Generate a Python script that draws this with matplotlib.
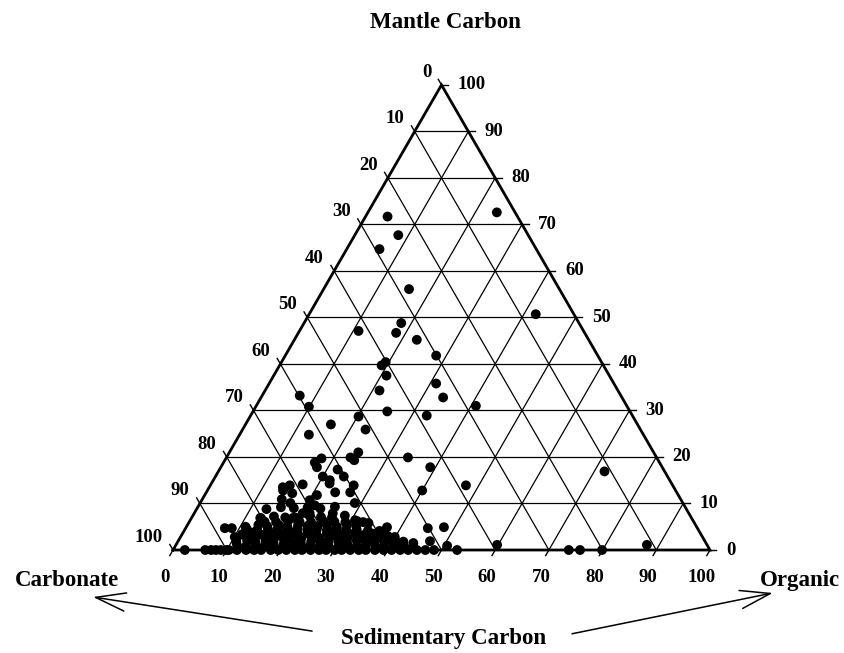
import matplotlib
matplotlib.use("Agg")
import matplotlib.pyplot as plt
import numpy as np

# ternary compositions in percent: organic (bottom axis) and mantle (right axis);
# carbonate is whatever is left of 100
organic_scatter = [4.1, 24.0, 8.1, 6.1, 15.9, 42.2, 18.1, 11.0, 18.2, 22.8, 28.1, 19.4, 19.0, 21.0,
                   31.1, 21.3, 7.0, 9.9, 33.9, 40.9, 20.2, 25.0, 32.8, 15.9, 12.9, 22.9, 24.0, 23.1,
                   24.1, 17.8, 17.0, 17.9, 33.8, 39.0, 71.9, 47.6, 22.0, 23.9, 20.0, 21.7, 26.7, 13.7,
                   14.8, 17.1, 26.8, 24.0, 28.8, 25.8, 40.0, 14.1, 16.1, 14.8, 16.8, 20.1, 20.9, 21.6,
                   22.0, 12.8, 18.9, 20.2, 21.5, 45.1, 48.0, 46.9, 50.6, 52.9, 59.8, 73.7, 75.8, 79.9,
                   87.7, 2.2, 6.0, 7.1, 8.0, 8.9, 9.9, 7.3, 8.6, 10.1, 11.8, 32.4, 30.7, 37.4, 37.3,
                   39.9, 41.5]
mantle_scatter = [71.7, 72.6, 67.7, 64.7, 56.1, 50.7, 48.8, 47.1, 46.7, 45.2, 41.8, 40.4, 39.7, 37.5,
                  35.8, 34.3, 33.2, 30.8, 32.8, 31.0, 28.7, 29.8, 28.9, 27.0, 24.8, 25.9, 21.0, 19.9,
                  19.3, 19.7, 18.8, 17.8, 19.9, 17.8, 16.9, 13.9, 17.3, 15.8, 15.8, 15.0, 13.9, 13.5,
                  13.9, 14.1, 12.4, 12.4, 10.1, 7.9, 12.8, 12.8, 12.2, 10.9, 10.1, 10.7, 11.8, 9.6,
                  14.3, 6.9, 6.9, 7.9, 7.9, 4.7, 4.9, 1.9, 0.9, 0.0, 1.1, 0.0, 0.0, 0.0,
                  1.1, 0.0, 0.0, 0.0, 0.0, 0.0, 0.0, 4.7, 4.7, 2.8, 3.9, 6.0, 6.4, 4.9, 3.6,
                  2.8, 1.5]

# the dense group of samples low in mantle carbon
organic_base = [10.4, 11.9, 13.6, 15.1, 16.4, 18.2, 19.6, 21.1, 22.7, 24.0, 25.6, 27.2, 28.5, 30.1,
                31.4, 33.0, 34.6, 35.9, 37.6, 39.2, 40.7, 42.3, 43.8, 45.4, 47.0, 48.6,
                11.5, 13.2, 14.8, 16.6, 18.3, 20.0, 21.8, 23.5, 25.1, 26.9, 28.6, 30.4, 32.1, 33.8,
                35.4, 37.2, 38.9, 40.6, 42.5, 44.3,
                11.0, 12.8, 14.5, 16.3, 17.9, 19.7, 21.4, 23.0, 24.8, 26.5, 28.1, 29.9, 31.6, 33.2,
                35.0, 36.6, 38.3, 40.1, 42.0, 44.0,
                10.6, 12.4, 14.0, 15.8, 17.6, 19.2, 21.0, 22.6, 24.4, 26.0, 27.8, 29.5, 31.2, 32.9,
                34.6, 36.3, 37.9, 39.8,
                11.2, 13.0, 14.7, 16.4, 18.1, 19.8, 21.6, 23.3, 25.0, 26.8, 28.4, 30.2, 32.0, 33.8,
                35.5, 38.5,
                11.6, 13.5, 15.4, 17.2, 19.1, 20.9, 22.8, 24.6, 26.5, 28.3, 30.1, 32.0, 34.2, 36.4,
                11.0, 13.2, 15.0, 17.1, 18.8, 20.6, 22.5, 24.3, 26.0, 28.0, 29.7, 31.5, 33.5,
                14.0, 16.2, 18.3, 20.5, 22.7, 24.9, 27.0, 29.1, 31.2,
                13.0, 15.2, 17.4, 19.5, 21.8, 24.0, 26.1, 28.3,
                13.0, 15.5, 18.0, 20.5, 23.0, 25.5]
mantle_base = [0.0, 0.0, 0.0, 0.0, 0.0, 0.0, 0.0, 0.0, 0.0, 0.0, 0.0, 0.0, 0.0, 0.0,
               0.0, 0.0, 0.0, 0.0, 0.0, 0.0, 0.0, 0.0, 0.0, 0.0, 0.0, 0.0,
               0.9, 0.8, 1.0, 0.9, 0.8, 1.0, 0.9, 0.8, 1.0, 0.9, 0.8, 1.0, 0.9, 0.8,
               1.0, 0.9, 0.8, 1.0, 0.9, 0.8,
               1.6, 2.0, 1.7, 1.9, 1.6, 2.0, 1.8, 1.6, 1.9, 2.0, 1.7, 1.8, 1.6, 2.0,
               1.8, 1.7, 1.9, 1.6, 1.8, 1.5,
               2.6, 2.7, 2.5, 2.8, 2.6, 2.7, 2.5, 2.6, 2.8, 2.6, 2.7, 2.5, 2.6, 2.8,
               2.6, 2.5, 2.7, 2.4,
               3.4, 3.7, 3.3, 3.6, 3.5, 3.8, 3.4, 3.6, 3.3, 3.7, 3.5, 3.4, 3.6, 3.2,
               3.5, 3.0,
               4.4, 4.3, 4.5, 4.4, 4.2, 4.5, 4.4, 4.3, 4.5, 4.4, 4.3, 4.4, 4.2, 4.1,
               5.0, 5.4, 5.1, 5.3, 5.0, 5.4, 5.2, 5.1, 5.3, 5.0, 5.4, 5.2, 5.8,
               6.1, 6.0, 6.2, 6.1, 6.0, 6.2, 6.1, 6.0, 6.2,
               6.8, 7.2, 7.0, 6.9, 7.3, 7.1, 7.0, 7.4,
               8.8, 9.2, 9.0, 9.1, 8.9, 9.3]

grid_levels = list(range(10, 100, 10))
tick_levels = list(range(0, 101, 10))

H = np.sqrt(3) / 2


def to_xy(organic, mantle):
    o = np.asarray(organic, dtype=float)
    m = np.asarray(mantle, dtype=float)
    return o + m / 2, m * H


plt.rcParams['font.family'] = ['Liberation Serif', 'DejaVu Serif']
plt.rcParams['font.weight'] = 'bold'

fig = plt.figure(figsize=(8.45, 6.53), dpi=100)
ax = fig.add_axes([0, 0, 1, 1])
ax.set_xlim(-32.22, 125.14)
ax.set_ylim(-19.18, 102.42)
ax.axis('off')

# grid lines for each component
for k in grid_levels:
    ax.plot([k / 2, 100 - k / 2], [k * H, k * H], color='black', lw=0.9, zorder=1)
    ax.plot([k, k + (100 - k) / 2], [0, (100 - k) * H], color='black', lw=0.9, zorder=1)
    ax.plot([(100 - k) / 2, 100 - k], [(100 - k) * H, 0], color='black', lw=0.9, zorder=1)

# outline
ax.plot([0, 100, 50, 0], [0, 0, 100 * H, 0], color='black', lw=2.0, zorder=2,
        solid_joinstyle='miter')

tl = 1.2
for k in tick_levels:
    # bottom axis: organic
    ax.plot([k, k - 0.5 * tl], [0, -H * tl], color='black', lw=1.0)
    ax.text(k - 1.5, -5.2, str(k), ha='center', va='center', fontsize=13.5)
    # right axis: mantle
    xr, yr = 100 - k / 2, k * H
    ax.plot([xr, xr + tl], [yr, yr], color='black', lw=1.0)
    ax.text(xr + 3.0, yr, str(k), ha='left', va='center', fontsize=13.5)
    # left axis: carbonate
    xl, yl = (100 - k) / 2, (100 - k) * H
    ax.plot([xl, xl - 0.5 * tl], [yl, yl + H * tl], color='black', lw=1.0)
    ax.text(xl - 1.9, yl + 2.4, str(k), ha='right', va='center', fontsize=13.5)

x1, y1 = to_xy(organic_scatter, mantle_scatter)
x2, y2 = to_xy(organic_base, mantle_base)
ax.scatter(np.concatenate([x1, x2]), np.concatenate([y1, y2]), s=50, color='black',
           edgecolors='none', zorder=3, clip_on=False)

ax.text(50.8, 98.3, 'Mantle Carbon', ha='center', va='center', fontsize=16.5)
ax.text(-19.7, -5.6, 'Carbonate', ha='center', va='center', fontsize=16.5)
ax.text(116.8, -5.6, 'Organic', ha='center', va='center', fontsize=16.5)
ax.text(50.3, -16.4, 'Sedimentary Carbon', ha='center', va='center', fontsize=16.5)

arrow = dict(arrowstyle='->,head_length=1.8,head_width=0.55', color='black', lw=1.1,
             shrinkA=0, shrinkB=0, mutation_scale=12)
ax.annotate('', xy=(-14.9, -8.75), xytext=(25.9, -15.1), arrowprops=arrow)
ax.annotate('', xy=(111.7, -8.0), xytext=(74.3, -15.6), arrowprops=arrow)

fig.savefig('out.png', dpi=100)
